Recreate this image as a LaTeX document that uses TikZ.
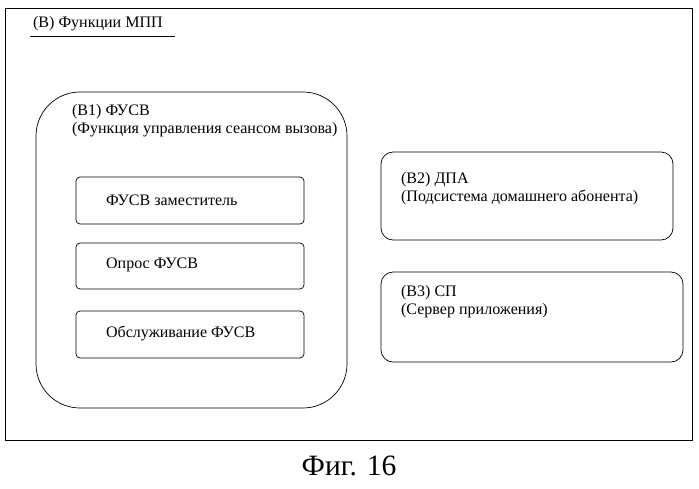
\documentclass[tikz,border=0pt]{standalone}
\usepackage{fontspec}
\setmainfont{Liberation Serif}
\begin{document}
\begin{tikzpicture}[x=0.5mm,y=-0.5mm,
    txt/.style={anchor=west,inner sep=0pt,align=left,font=\fontsize{22.8}{26}\selectfont},
    outerbox/.style={draw,line width=1pt},
    bigbox/.style={draw,line width=1pt,rounded corners=22mm},
    midbox/.style={draw,line width=1pt,rounded corners=6mm},
    smallbox/.style={draw,line width=1pt,rounded corners=2mm}]
    \useasboundingbox (0,0) rectangle (699,488);
    % frame
    \draw[outerbox] (5,8) rectangle (692,440);
    \node[txt] (title) at (33,24) {(B) Функции МПП};
    \draw[line width=0.8pt] (30,36) -- (175,36);
    % B1
    \draw[bigbox] (36,92) rectangle (347,408);
    \node[txt] (b1) at (72,121) {(B1) ФУСВ\\(Функция управления сеансом вызова)};
    \draw[smallbox] (76,177) rectangle (304,224);
    \node[txt] (proxy) at (106,200) {ФУСВ заместитель};
    \draw[smallbox] (76,243) rectangle (304,289);
    \node[txt] (query) at (106,265) {Опрос ФУСВ};
    \draw[smallbox] (76,311) rectangle (304,358);
    \node[txt] (serv) at (106,333) {Обслуживание ФУСВ};
    % B2, B3
    \draw[midbox] (381,152) rectangle (673,240);
    \node[txt] (b2) at (401,189) {(B2) ДПА\\(Подсистема домашнего абонента)};
    \draw[midbox] (381,272) rectangle (683,362);
    \node[txt] (b3) at (401,302) {(B3) СП\\(Сервер приложения)};
    \node[font=\fontsize{42}{48}\selectfont] (cap) at (349,466) {Фиг. 16};
\end{tikzpicture}
\end{document}
